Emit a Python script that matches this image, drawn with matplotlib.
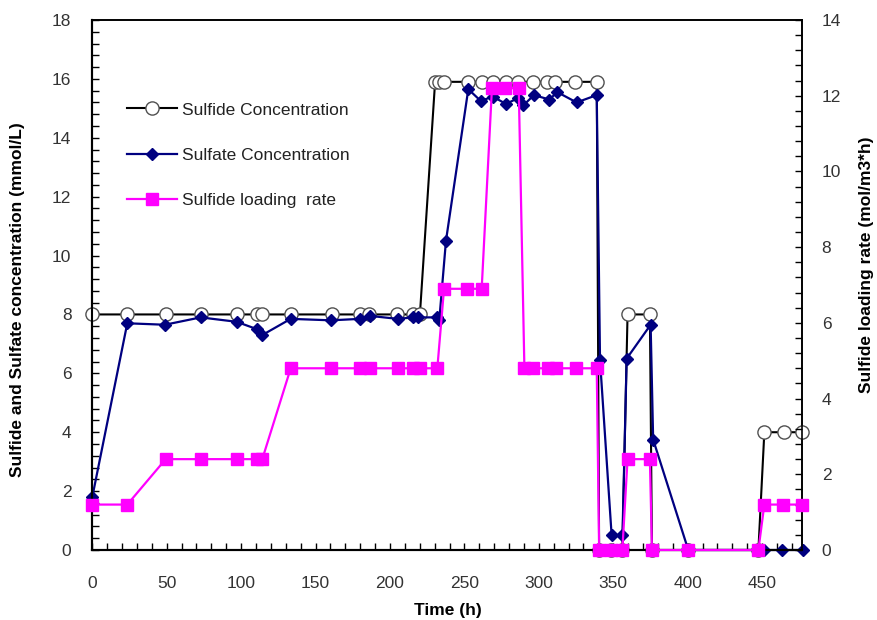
import matplotlib
matplotlib.use('Agg')
import matplotlib.pyplot as plt
from matplotlib.ticker import MultipleLocator

plt.rcParams['font.family'] = ['Liberation Sans', 'DejaVu Sans']

# ---- data ----
sulfide_t = [0, 23.5, 49.3, 72.8, 97, 110.4, 113.8, 133.3, 160.8, 179.8, 186.1,
             204.9, 215.7, 220.1, 230.3, 232.6, 236.3, 252.6, 261.6, 269, 277.9,
             286.2, 296.3, 305.3, 310.8, 324.3, 338.9, 340.5, 348.3, 356.1, 359.6,
             374.6, 376.0, 400.4, 447.5, 451.5, 465, 477]
sulfide_c = [8, 8, 8, 8, 8, 8, 8, 8, 8, 8, 8,
             8, 8, 8, 15.9, 15.9, 15.9, 15.9, 15.9, 15.9, 15.9,
             15.9, 15.9, 15.9, 15.9, 15.9, 15.9, 0, 0, 0, 8,
             8, 0, 0, 0, 4, 4, 4]

sulfate_t = [0, 23.5, 48.8, 72.8, 97, 110.6, 114.2, 133.3, 160.5, 179.8, 186.6,
             205.2, 215.7, 219, 231.8, 233.1, 237.6, 252.6, 261, 269, 277.9,
             286.2, 289.6, 296.7, 307, 312.4, 325.4, 338.9, 341.1, 348.9, 356.2,
             359, 375.1, 376.8, 400.4, 451.3, 463.5, 477.5]
sulfate_c = [1.8, 7.7, 7.65, 7.9, 7.75, 7.5, 7.3, 7.85, 7.8, 7.85, 7.95,
             7.85, 7.9, 7.9, 7.9, 7.8, 10.5, 15.65, 15.25, 15.4, 15.15,
             15.35, 15.1, 15.45, 15.3, 15.55, 15.2, 15.45, 6.45, 0.5, 0.5,
             6.5, 7.65, 3.75, 0, 0, 0, 0]

load_t = [0, 23.5, 49.3, 73.2, 97, 110.4, 114.2, 133.3, 160.5, 179.8, 186.6,
          205.2, 215.7, 220.2, 231.8, 236.3, 251.5, 261.6, 268.5, 277.5, 286.5,
          290.3, 296.3, 306.3, 311.3, 324.8, 338.9, 340.5, 348.3, 356.1, 359.6,
          374.6, 376.0, 400.4, 447.5, 451.5, 464, 477]
load_r = [1.2, 1.2, 2.4, 2.4, 2.4, 2.4, 2.4, 4.8, 4.8, 4.8, 4.8,
          4.8, 4.8, 4.8, 4.8, 6.9, 6.9, 6.9, 12.2, 12.2, 12.2,
          4.8, 4.8, 4.8, 4.8, 4.8, 4.8, 0, 0, 0, 2.4,
          2.4, 0, 0, 0, 1.2, 1.2, 1.2]

series_labels = ['Sulfide Concentration', 'Sulfate Concentration', 'Sulfide loading  rate']
x_label = 'Time (h)'
y_label = 'Sulfide and Sulfate concentration (mmol/L)'
y2_label = 'Sulfide loading rate (mol/m3*h)'

# ---- figure ----
fig = plt.figure(figsize=(8.77, 6.2), dpi=100)
ax = fig.add_axes([92.3 / 877, 70 / 620, 710 / 877, 530 / 620])
ax2 = ax.twinx()

l1, = ax.plot(sulfide_t, sulfide_c, color='black', lw=1.5, marker='o', ms=9.5,
              mfc='white', mec='#505050', mew=1.0, clip_on=False, zorder=3,
              label=series_labels[0])
l2, = ax.plot(sulfate_t, sulfate_c, color='#000080', lw=1.6, marker='D', ms=6.5,
              mfc='#000080', mec='#000080', clip_on=False, zorder=4,
              label=series_labels[1])
l3, = ax2.plot(load_t, load_r, color='#FF00FF', lw=1.6, marker='s', ms=9,
               mfc='#FF00FF', mec='#FF00FF', clip_on=False, zorder=5,
               label=series_labels[2])

ax.set_xlim(0, 477)
ax.set_ylim(0, 18)
ax2.set_ylim(0, 14)

ax.xaxis.set_major_locator(MultipleLocator(50))
ax.xaxis.set_minor_locator(MultipleLocator(10))
ax.yaxis.set_major_locator(MultipleLocator(2))
ax.yaxis.set_minor_locator(MultipleLocator(0.4))
ax2.yaxis.set_major_locator(MultipleLocator(2))
ax2.yaxis.set_minor_locator(MultipleLocator(0.4))

tick_color = '#333333'
ax.tick_params(axis='both', which='both', direction='in', length=5, width=1,
               top=False, right=False, labelsize=12.5, labelcolor=tick_color)
ax.tick_params(axis='y', which='both', pad=15)
ax.tick_params(axis='x', which='both', pad=19)
ax2.tick_params(axis='y', which='both', direction='in', length=5, width=1,
                left=False, right=True, labelsize=12.5, labelcolor=tick_color, pad=14)

for name, sp in ax.spines.items():
    sp.set_linewidth(1.5 if name in ('left', 'bottom') else 1.2)
for name, sp in ax2.spines.items():
    sp.set_linewidth(1.5 if name in ('left', 'bottom') else 1.2)

fig.text(18 / 877, 1 - 300 / 620, y_label, rotation=90, ha='center', va='center',
         fontsize=12.5, fontweight='bold')
fig.text(866 / 877, 1 - 265 / 620, y2_label, rotation=90, ha='center', va='center',
         fontsize=12.5, fontweight='bold')
fig.text(448 / 877, 1 - 611 / 620, x_label, ha='center', va='center',
         fontsize=12.5, fontweight='bold')

fig.legend([l1, l2, l3], series_labels, loc='center left',
           bbox_to_anchor=(127 / 877, 1 - 155 / 620), frameon=False,
           labelspacing=1.72, handlelength=2.9, handletextpad=0.25,
           borderpad=0, borderaxespad=0, fontsize=12.5, labelcolor='#222222')

fig.savefig('out.png', dpi=100)
